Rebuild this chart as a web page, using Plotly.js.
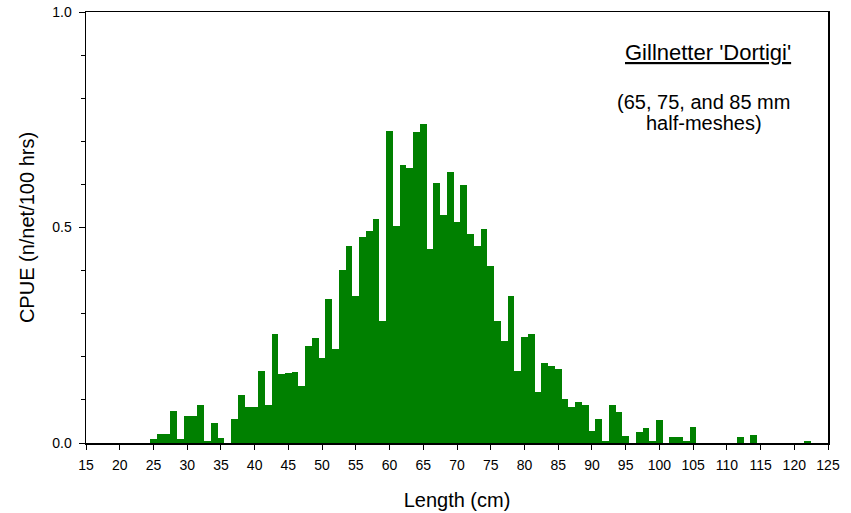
<!DOCTYPE html>
<html>
<head>
<meta charset="utf-8">
<script src="https://cdn.plot.ly/plotly-3.0.1.min.js"></script>
<style>
  html, body { margin: 0; padding: 0; background: #fff; }
  #chart { width: 851px; height: 513px; }
</style>
</head>
<body>
<div id="chart"></div>
<script>
// length classes (cm) and catch per unit effort
var lengths = [25, 26, 27, 28, 29, 30, 31, 32, 33, 34, 35, 36, 37, 38, 39, 40,
    41, 42, 43, 44, 45, 46, 47, 48, 49, 50, 51, 52, 53, 54, 55, 56, 57, 58, 59, 60,
    61, 62, 63, 64, 65, 66, 67, 68, 69, 70, 71, 72, 73, 74, 75, 76, 77, 78, 79, 80,
    81, 82, 83, 84, 85, 86, 87, 88, 89, 90, 91, 92, 93, 94, 95, 96, 97, 98, 99, 100,
    101, 102, 103, 104, 105, 112, 114, 122];
var cpue = [0.010, 0.021, 0.021, 0.075, 0.010, 0.063, 0.063, 0.089, 0.005, 0.047, 0.012, 0, 0.056, 0.112, 0.084, 0.084,
    0.166, 0.089, 0.254, 0.161, 0.163, 0.165, 0.133, 0.226, 0.244, 0.198, 0.333, 0.219, 0.402, 0.458, 0.342, 0.477, 0.493, 0.520, 0.284, 0.725,
    0.504, 0.646, 0.639, 0.722, 0.741, 0.450, 0.604, 0.530, 0.629, 0.513, 0.599, 0.486, 0.456, 0.497, 0.411, 0.284, 0.237, 0.340, 0.168, 0.247,
    0.254, 0.119, 0.186, 0.179, 0.172, 0.103, 0.084, 0.096, 0.089, 0.029, 0.055, 0.005, 0.089, 0.073, 0.017, 0, 0.026, 0.035, 0.005, 0.054,
    0, 0.014, 0.014, 0.005, 0.037, 0.014, 0.019, 0.005];

var xTicks = [15, 20, 25, 30, 35, 40, 45, 50, 55, 60, 65, 70, 75, 80, 85, 90, 95, 100, 105, 110, 115, 120, 125];
var yTicks = [0, 0.5, 1.0];
var yTickText = ['0.0', '0.5', '1.0'];

var FONT = 'Arial, "Liberation Sans", sans-serif';

var trace = {
    x: lengths,
    y: cpue,
    type: 'bar',
    width: 1,
    marker: { color: '#008000', line: { width: 0 } },
    hoverinfo: 'none'
};

var layout = {
    width: 851,
    height: 513,
    margin: { l: 86, r: 23, t: 12, b: 70 },
    paper_bgcolor: '#fff',
    plot_bgcolor: '#fff',
    showlegend: false,
    bargap: 0,
    font: { family: FONT, color: '#000' },
    xaxis: {
        range: [15, 125],
        tickvals: xTicks,
        ticks: 'outside',
        ticklen: 5,
        tickwidth: 1,
        tickcolor: '#000',
        ticklabelstandoff: 4,
        tickfont: { size: 14, family: FONT },
        showline: true,
        linecolor: '#000',
        linewidth: 1.5,
        mirror: true,
        showgrid: false,
        zeroline: false,
        title: { text: 'Length (cm)', font: { size: 20, family: FONT }, standoff: 20 }
    },
    yaxis: {
        range: [0, 1],
        tickvals: yTicks,
        ticktext: yTickText,
        ticks: 'outside',
        ticklen: 6,
        tickwidth: 1,
        tickcolor: '#000',
        ticklabelstandoff: 4,
        tickfont: { size: 14, family: FONT },
        minor: { dtick: 0.1, ticks: 'outside', ticklen: 4, tickcolor: '#000', tickwidth: 1, showgrid: false },
        showline: true,
        linecolor: '#000',
        linewidth: 1.5,
        mirror: true,
        showgrid: false,
        zeroline: false,
        title: { text: 'CPUE (n/net/100 hrs)', font: { size: 20, family: FONT }, standoff: 12 }
    },
    annotations: [
        {
            text: "<u>Gillnetter 'Dortigi'</u>",
            xref: 'x', yref: 'y', x: 107.2, y: 0.905,
            xanchor: 'center', yanchor: 'middle',
            showarrow: false,
            font: { size: 22, family: FONT }
        },
        {
            text: '(65, 75, and 85 mm',
            xref: 'x', yref: 'y', x: 106.6, y: 0.792,
            xanchor: 'center', yanchor: 'middle',
            showarrow: false,
            font: { size: 20, family: FONT }
        },
        {
            text: 'half-meshes)',
            xref: 'x', yref: 'y', x: 106.6, y: 0.742,
            xanchor: 'center', yanchor: 'middle',
            showarrow: false,
            font: { size: 20, family: FONT }
        }
    ]
};

Plotly.newPlot('chart', [trace], layout, { staticPlot: true, displayModeBar: false });
</script>
</body>
</html>
